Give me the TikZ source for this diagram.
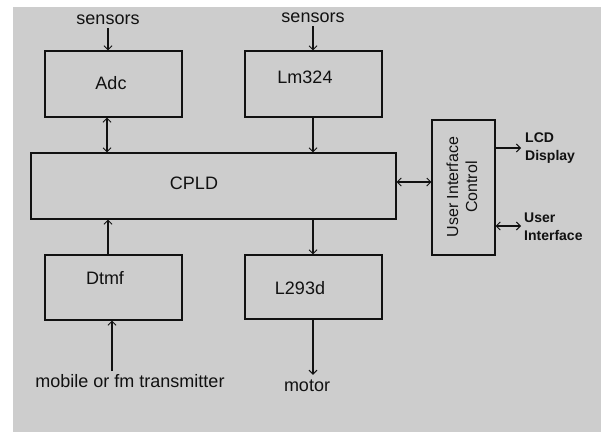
\documentclass[tikz,border=0pt]{standalone}
\usepackage{fontspec}
\setmainfont{Liberation Sans}
\usetikzlibrary{arrows.meta}
\definecolor{bg}{HTML}{CDCDCD}
\definecolor{ink}{HTML}{111111}
\tikzset{
  blk/.style={draw=ink, line width=1.1pt, minimum width=137pt, inner sep=0pt},
  txt/.style={inner sep=0pt, font=\fontsize{18}{20}\selectfont, text=ink},
  sml/.style={inner sep=0pt, font=\bfseries\fontsize{14}{18}\selectfont, text=ink, align=left},
  con/.style={draw=ink, line width=1.1pt},
  tip/.style={-{Straight Barb[length=4pt,width=8pt,line width=1pt]}},
  dtip/.style={{Straight Barb[length=4pt,width=8pt,line width=1pt]}-{Straight Barb[length=4pt,width=8pt,line width=1pt]}}
}
\begin{document}
\begin{tikzpicture}[x=1pt,y=-1pt]
\useasboundingbox (0,0) rectangle (601,432);
\fill[white] (0,0) rectangle (601,432);
\fill[bg] (13,7) rectangle (601,432);

% boxes
\node[blk, minimum height=66pt] (adc) at (113.5,84) {};
\node[blk, minimum height=66pt] (lm) at (313.5,84) {};
\node[blk, minimum width=365pt, minimum height=66pt] (cpld) at (213.5,186) {};
\node[blk, minimum height=65pt] (dtmf) at (113.5,287.5) {};
\node[blk, minimum height=64pt] (l293) at (313.5,287) {};
\node[blk, minimum width=63pt, minimum height=135pt] (ui) at (463.5,187.5) {};

% box texts
\node[txt] (tadc) at (111,83) {Adc};
\node[txt] (tlm) at (305,77) {Lm324};
\node[txt] (tcpld) at (194,183) {CPLD};
\node[txt] (tdtmf) at (105,278) {Dtmf};
\node[txt] (tl293) at (300,288) {L293d};
\node[txt, rotate=90, align=center, font=\fontsize{16}{19}\selectfont] (tui) at (462,187) {User Interface\\Control};

% outer labels
\node[txt] (s1) at (108,20) {sensors};
\node[txt] (s2) at (313,18) {sensors};
\node[txt] (mob) at (130,381) {mobile or fm transmitter};
\node[txt] (mot) at (307,386) {motor};
\node[sml, anchor=west] (lcd) at (525,148.5) {LCD\\Display};
\node[sml, anchor=west] (usr) at (524,227) {User\\Interface};

% connectors
\draw[con, tip] ([yshift=-3pt]s1.south) -- (s1.south |- adc.north);
\draw[con, tip] ([yshift=-3pt]s2.south) -- (s2.south |- lm.north);
\draw[con, dtip] ([xshift=-6.5pt]adc.south) -- ([xshift=-6.5pt]adc.south |- cpld.north);
\draw[con, tip] ([xshift=-0.5pt]lm.south) -- ([xshift=-0.5pt]lm.south |- cpld.north);
\draw[con, tip] ([xshift=-5.5pt]dtmf.north) -- ([xshift=-5.5pt]dtmf.north |- cpld.south);
\draw[con, tip] ([xshift=-0.5pt]l293.north |- cpld.south) -- ([xshift=-0.5pt]l293.north);
\draw[con, tip] ([xshift=-1.5pt]dtmf.south |- mob.north) ++(0,-3) -- ([xshift=-1.5pt]dtmf.south);
\draw[con, tip] ([xshift=-0.5pt]l293.south) -- ([xshift=-0.5pt,yshift=5pt]l293.south |- mot.north);
\draw[con, dtip] ([yshift=4pt]cpld.east) -- ([yshift=4pt]cpld.east -| ui.west);
\draw[con, tip] ([yshift=39.5pt]ui.east) -- ([xshift=-4pt,yshift=39.5pt]ui.east -| lcd.west);
\draw[con, dtip] ([yshift=-38.5pt]ui.east) -- ([xshift=-3pt,yshift=-38.5pt]ui.east -| usr.west);
\end{tikzpicture}
\end{document}
